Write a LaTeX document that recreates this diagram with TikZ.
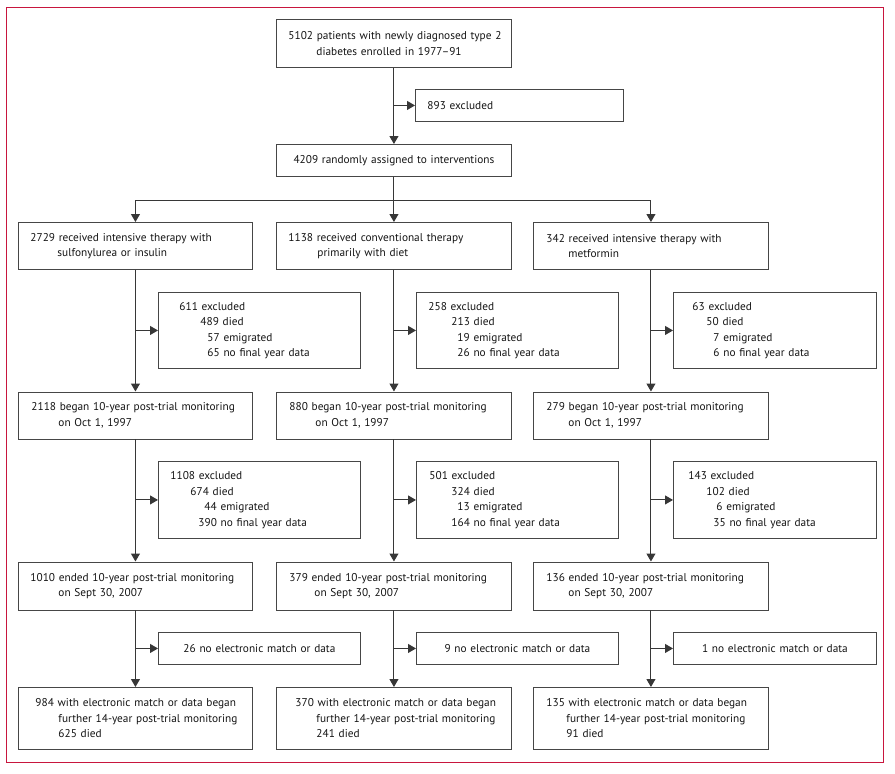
\documentclass[tikz,border=0pt]{standalone}
\usepackage{fontspec}
\setmainfont{PT Sans}
\usetikzlibrary{arrows.meta}
\definecolor{framec}{RGB}{200,22,62}
\definecolor{boxc}{RGB}{70,70,70}
\definecolor{linec}{RGB}{55,55,55}
\definecolor{txtc}{RGB}{20,20,20}
\newcommand\Lp[1]{\hspace*{#1pt}}
\begin{document}
\begin{tikzpicture}[x=1pt,y=-1pt,
  fbox/.style={draw=boxc, line width=0.9pt, inner sep=0pt, anchor=north west,
    text=txtc, font=\fontsize{11.3}{15.5}\selectfont, align=left},
  cbox/.style={fbox, align=center},
  conn/.style={draw=linec, line width=1pt},
  arr/.style={conn, -{Triangle[length=8pt,width=9pt]}},
]
\useasboundingbox (0,0) rectangle (895,774);
\draw[framec, line width=1pt] (6.5,7) rectangle (883.5,762);

% top part
\node[fbox, minimum width=235pt, minimum height=48pt, text width=235pt] (top) at (276,19)
  {\Lp{12}5102 patients with newly diagnosed type 2\\\Lp{40}diabetes enrolled in 1977–91};
\node[fbox, minimum width=208pt, minimum height=32pt, text width=208pt] (ex0) at (415,89)
  {\Lp{12}893 excluded};
\node[cbox, minimum width=235pt, minimum height=32pt, text width=235pt] (r0) at (276,144)
  {4209 randomly assigned to interventions};

% row A
\node[fbox, minimum width=234pt, minimum height=47pt, text width=234pt] (c1A) at (18,222)
  {\Lp{12}2729 received intensive therapy with\\\Lp{39}sulfonylurea or insulin};
\node[fbox, minimum width=235pt, minimum height=47pt, text width=235pt] (c2A) at (276,222)
  {\Lp{12}1138 received conventional therapy\\\Lp{41}primarily with diet};
\node[fbox, minimum width=235pt, minimum height=47pt, text width=235pt] (c3A) at (533,222)
  {\Lp{13}342 received intensive therapy with\\\Lp{35}metformin};

% exclusions A
\node[fbox, minimum width=202pt, minimum height=76pt, text width=202pt] (e1A) at (158,292)
  {\Lp{21}611 excluded\\\Lp{42}489 died\\\Lp{49}57 emigrated\\\Lp{49}65 no final year data};
\node[fbox, minimum width=202pt, minimum height=76pt, text width=202pt] (e2A) at (416,292)
  {\Lp{12}258 excluded\\\Lp{35}213 died\\\Lp{41}19 emigrated\\\Lp{41}26 no final year data};
\node[fbox, minimum width=203pt, minimum height=76pt, text width=203pt] (e3A) at (673,292)
  {\Lp{19}63 excluded\\\Lp{33}50 died\\\Lp{40}7 emigrated\\\Lp{40}6 no final year data};

% row B
\node[fbox, minimum width=234pt, minimum height=47pt, text width=234pt] (c1B) at (18,391.5)
  {\Lp{13}2118 began 10-year post-trial monitoring\\\Lp{40}on Oct 1, 1997};
\node[fbox, minimum width=235pt, minimum height=47pt, text width=235pt] (c2B) at (276,391.5)
  {\Lp{13}880 began 10-year post-trial monitoring\\\Lp{39}on Oct 1, 1997};
\node[fbox, minimum width=235pt, minimum height=47pt, text width=235pt] (c3B) at (533,391.5)
  {\Lp{13}279 began 10-year post-trial monitoring\\\Lp{35}on Oct 1, 1997};

% exclusions B
\node[fbox, minimum width=202pt, minimum height=77pt, text width=202pt] (e1B) at (158,461)
  {\Lp{12}1108 excluded\\\Lp{32}674 died\\\Lp{46}44 emigrated\\\Lp{40}390 no final year data};
\node[fbox, minimum width=202pt, minimum height=77pt, text width=202pt] (e2B) at (416,461)
  {\Lp{13}501 excluded\\\Lp{35}324 died\\\Lp{41}13 emigrated\\\Lp{35}164 no final year data};
\node[fbox, minimum width=203pt, minimum height=77pt, text width=203pt] (e3B) at (673,461)
  {\Lp{15}143 excluded\\\Lp{33}102 died\\\Lp{43}6 emigrated\\\Lp{40}35 no final year data};

% row C
\node[fbox, minimum width=234pt, minimum height=48pt, text width=234pt] (c1C) at (18,561.5)
  {\Lp{12}1010 ended 10-year post-trial monitoring\\\Lp{40}on Sept 30, 2007};
\node[fbox, minimum width=235pt, minimum height=48pt, text width=235pt] (c2C) at (276,561.5)
  {\Lp{13}379 ended 10-year post-trial monitoring\\\Lp{38}on Sept 30, 2007};
\node[fbox, minimum width=235pt, minimum height=48pt, text width=235pt] (c3C) at (533,561.5)
  {\Lp{13}136 ended 10-year post-trial monitoring\\\Lp{35}on Sept 30, 2007};

% no match
\node[cbox, minimum width=202pt, minimum height=32pt, text width=202pt] (n1) at (158,632)
  {26 no electronic match or data};
\node[cbox, minimum width=202pt, minimum height=32pt, text width=202pt] (n2) at (416,632)
  {9 no electronic match or data};
\node[cbox, minimum width=203pt, minimum height=32pt, text width=203pt] (n3) at (673,632)
  {1 no electronic match or data};

% final
\node[fbox, minimum width=234pt, minimum height=62pt, text width=234pt] (f1) at (18,687)
  {\Lp{17}984 with electronic match or data began\\\Lp{40}further 14-year post-trial monitoring\\\Lp{40}625 died};
\node[fbox, minimum width=235pt, minimum height=62pt, text width=235pt] (f2) at (276,687)
  {\Lp{19}370 with electronic match or data began\\\Lp{40}further 14-year post-trial monitoring\\\Lp{40}241 died};
\node[fbox, minimum width=235pt, minimum height=62pt, text width=235pt] (f3) at (533,687)
  {\Lp{13}135 with electronic match or data began\\\Lp{33}further 14-year post-trial monitoring\\\Lp{33}91 died};

% connectors
\draw[arr] (top.south) -- (r0.north);
\draw[arr] (top.south |- ex0.west) -- (ex0.west);
\coordinate (b1) at (c1A.north |- 0,200);
\coordinate (b3) at (c3A.north |- 0,200);
\draw[conn] (b1) -- (b3);
\draw[arr] (b1) -- (c1A.north);
\draw[arr] (r0.south) -- (c2A.north);
\draw[arr] (b3) -- (c3A.north);

\foreach \c in {1,2,3}{
  \draw[arr] (c\c A.south) -- (c\c B.north);
  \draw[arr] (c\c A.south |- e\c A.west) -- (e\c A.west);
  \draw[arr] (c\c B.south) -- (c\c C.north);
  \draw[arr] (c\c B.south |- e\c B.west) -- (e\c B.west);
  \draw[arr] (c\c C.south) -- (f\c.north);
  \draw[arr] (c\c C.south |- n\c.west) -- (n\c.west);
}
\end{tikzpicture}
\end{document}
